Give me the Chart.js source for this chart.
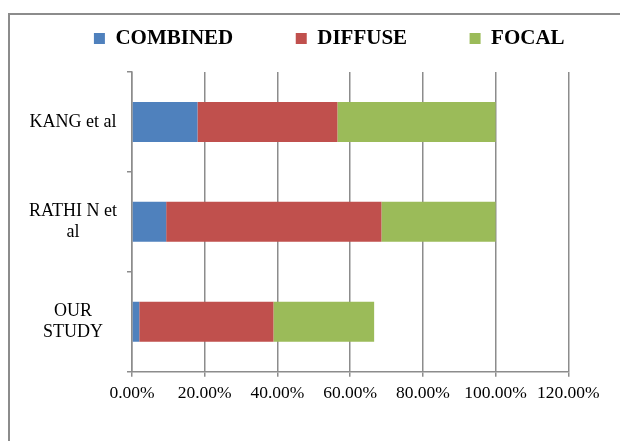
<!DOCTYPE html>
<html>
<head>
<meta charset="utf-8">
<script src="https://cdn.jsdelivr.net/npm/chart.js@4/dist/chart.umd.min.js"></script>
<style>
    html, body { margin: 0; padding: 0; background: #fff; }
    #wrap { position: relative; width: 620px; height: 441px; overflow: hidden; }
    #frame { position: absolute; left: 8px; top: 13px; width: 700px; height: 500px;
             border-left: 2px solid #8c8c8c; border-top: 2px solid #8c8c8c; }
    #chart-bars { position: absolute; left: 0; top: 0; }
</style>
</head>
<body>
<div id="wrap">
    <div id="frame"></div>
    <canvas id="chart-bars" width="620" height="441"></canvas>
</div>
<script>
const categories = ['KANG et al', ['RATHI N et', 'al'], ['OUR', 'STUDY']];
const seriesNames = ['COMBINED', 'DIFFUSE', 'FOCAL'];
const combined = [18, 9.4, 2];
const diffuse = [38.5, 59.2, 36.9];
const focal = [43.5, 31.4, 27.7];
const xTicks = [0, 20, 40, 60, 80, 100, 120];

const colors = ['#4F81BD', '#C0504D', '#9BBB59'];
const gridColor = '#8c8c8c';
const serif = "'Times New Roman', 'Liberation Serif', serif";

// push the plot down a bit from the legend
const legendGap = {
    id: 'legendGap',
    beforeInit(chart) {
        if (!chart.legend) return;
        const fit = chart.legend.fit;
        chart.legend.fit = function () {
            fit.call(this);
            this.height += 13;
        };
    }
};

const config = {
    type: 'bar',
    data: {
        labels: categories,
        datasets: [combined, diffuse, focal].map(function (values, i) {
            return {
                label: seriesNames[i],
                data: values,
                backgroundColor: colors[i],
                borderWidth: 0,
                categoryPercentage: 1,
                barPercentage: 0.4
            };
        })
    },
    options: {
        indexAxis: 'y',
        responsive: false,
        animation: false,
        layout: {
            padding: { top: -34.5, left: 14, right: -24.5, bottom: 0 }
        },
        plugins: {
            tooltip: { enabled: false },
            legend: {
                display: true,
                position: 'top',
                labels: {
                    boxWidth: 11,
                    boxHeight: 11,
                    padding: 62.5,
                    color: '#000',
                    font: { family: serif, size: 21, weight: 'bold' }
                }
            }
        },
        scales: {
            x: {
                stacked: true,
                min: 0,
                max: 120,
                afterBuildTicks: function (scale) {
                    scale.ticks = xTicks.map(function (v) { return { value: v }; });
                },
                afterFit: function (scale) {
                    scale.paddingRight = 51.7;
                    scale.height = 69.3;
                },
                ticks: {
                    color: '#000',
                    padding: 6,
                    maxRotation: 0,
                    font: { family: serif, size: 17.5 },
                    callback: function (value) { return value.toFixed(2) + '%'; }
                },
                grid: {
                    color: gridColor,
                    lineWidth: 1.5,
                    tickLength: 5
                },
                border: { color: gridColor, width: 1.5 }
            },
            y: {
                stacked: true,
                afterFit: function (scale) { scale.width = 118; },
                ticks: {
                    color: '#000',
                    padding: 10,
                    crossAlign: 'center',
                    font: { family: serif, size: 18 }
                },
                grid: {
                    drawOnChartArea: false,
                    color: gridColor,
                    lineWidth: 1.5,
                    tickLength: 5
                },
                border: { color: gridColor, width: 1.5 }
            }
        }
    },
    plugins: [legendGap]
};

const chart = new Chart(document.getElementById('chart-bars'), config);
</script>
</body>
</html>
